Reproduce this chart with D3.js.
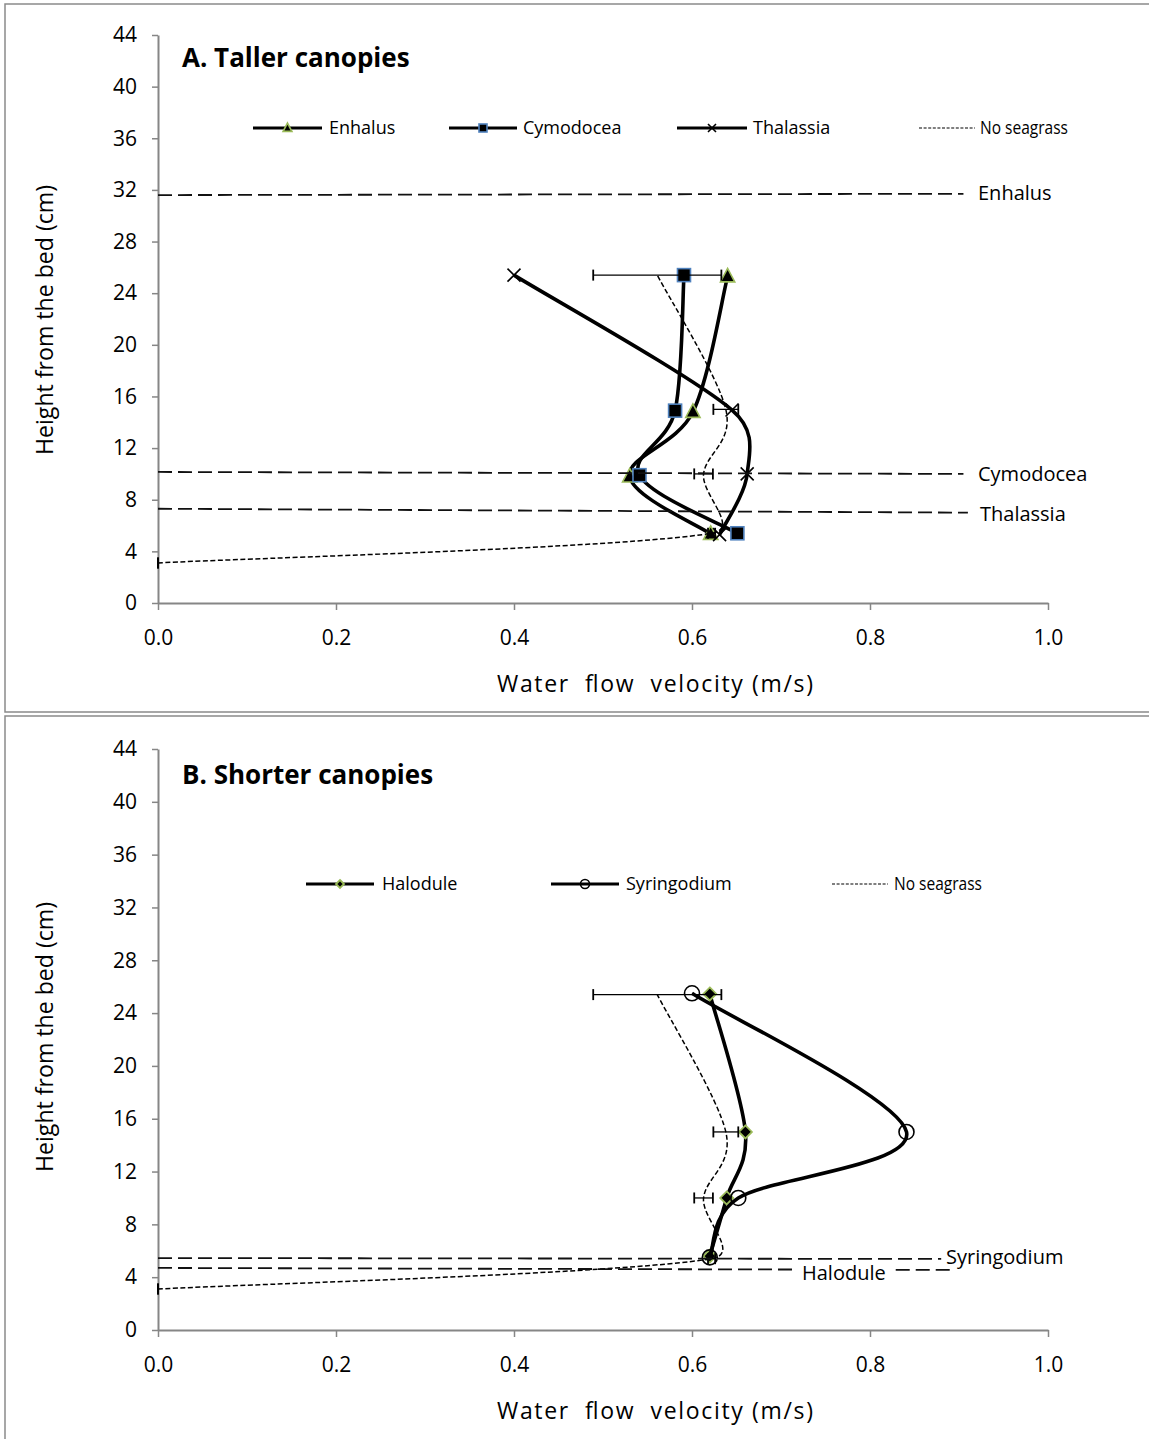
<!DOCTYPE html>
<html><head><meta charset="utf-8">
<script src="https://cdn.jsdelivr.net/npm/d3@7"></script>
<style>
body{margin:0;background:#fff;}
svg{display:block;font-family:"Open Sans",sans-serif;}
</style></head><body>
<svg id="c" width="1149" height="1439"></svg>
<script>
// ---------- data ----------
const xTicks=[0,0.2,0.4,0.6,0.8,1.0];
const yTicks=[0,4,8,12,16,20,24,28,32,36,40,44];
// Panel A: taller canopies (velocity m/s, height cm)
const enhalusV=[0.640,0.601,0.530,0.621];
const enhalusH=[25.3,14.8,9.8,5.35];
const cymodoceaV=[0.591,0.581,0.541,0.651];
const cymodoceaH=[25.4,14.9,9.9,5.4];
const thalassiaV=[0.400,0.645,0.662,0.631];
const thalassiaH=[25.4,14.95,10.0,5.3];
// No seagrass (control), shared by both panels
const noSeagrassV=[0.000,0.622,0.613,0.638,0.561];
const noSeagrassH=[3.1,5.4,10.0,15.0,25.4];
const noSeagrassErr=[0.000,0.004,0.0105,0.014,0.072];
// Panel B: shorter canopies
const haloduleV=[0.620,0.660,0.639,0.620];
const haloduleH=[25.45,15.0,10.0,5.6];
const syringodiumV=[0.600,0.841,0.652,0.620];
const syringodiumH=[25.5,15.0,10.0,5.5];
// canopy height reference lines (height at start / end, end velocity)
const canopyA=["Enhalus","Cymodocea","Thalassia"];
const canopyAStartH=[31.6,10.15,7.3];
const canopyAEndH=[31.7,10.0,7.0];
const canopyAEndV=[0.905,0.905,0.91];
const canopyB=["Syringodium","Halodule"];
const canopyBStartH=[5.45,4.7];
const canopyBEndH=[5.38,4.55];
const canopyBEndV=[0.88,0.89];

// ---------- drawing ----------
const svg=d3.select("#c");
const GRAY="#868686", GREEN="#9BBB59", BLUE="#4F81BD";

svg.append("rect").attr("x",5).attr("y",4).attr("width",1160).attr("height",708)
  .attr("fill","none").attr("stroke","#8a8a8a").attr("stroke-width",1.5);
svg.append("rect").attr("x",5).attr("y",716).attr("width",1160).attr("height",740)
  .attr("fill","none").attr("stroke","#8a8a8a").attr("stroke-width",1.5);

// Excel-like smoothed line: Catmull-Rom style tangents with arms limited by segment length
function smoothPath(p){
  const path=d3.path();
  path.moveTo(p[0][0],p[0][1]);
  const clamp=(a,v,len)=>{const L=Math.hypot(v[0],v[1]);const m=0.5*len;const s=L>m?m/L:1;return [a[0]+v[0]*s,a[1]+v[1]*s];};
  for(let i=0;i<p.length-1;i++){
    const a=p[i], b=p[i+1], prev=p[i-1]||a, next=p[i+2]||b;
    const len=Math.hypot(b[0]-a[0],b[1]-a[1]);
    const c1=clamp(a,[(b[0]-prev[0])/6,(b[1]-prev[1])/6],len);
    const c2=clamp(b,[-(next[0]-a[0])/6,-(next[1]-a[1])/6],len);
    path.bezierCurveTo(c1[0],c1[1],c2[0],c2[1],b[0],b[1]);
  }
  return path.toString();
}

function marker(g,type,cx,cy,s){
  if(type==="triangle"){
    g.append("path").attr("d",`M${cx},${cy-s*0.62}L${cx+s*0.55},${cy+s*0.42}L${cx-s*0.55},${cy+s*0.42}Z`)
      .attr("fill","#000").attr("stroke",GREEN).attr("stroke-width",1.6);
  }else if(type==="square"){
    g.append("rect").attr("x",cx-s/2).attr("y",cy-s/2).attr("width",s).attr("height",s)
      .attr("fill","#000").attr("stroke",BLUE).attr("stroke-width",1.6);
  }else if(type==="x"){
    const h=s/2;
    g.append("path").attr("d",`M${cx-h},${cy-h}L${cx+h},${cy+h}M${cx-h},${cy+h}L${cx+h},${cy-h}`)
      .attr("stroke","#000").attr("stroke-width",1.6).attr("fill","none");
  }else if(type==="diamond"){
    const h=s/2;
    g.append("path").attr("d",`M${cx},${cy-h}L${cx+h},${cy}L${cx},${cy+h}L${cx-h},${cy}Z`)
      .attr("fill","#000").attr("stroke",GREEN).attr("stroke-width",1.8);
  }else if(type==="circle"){
    g.append("circle").attr("cx",cx).attr("cy",cy).attr("r",s/2)
      .attr("fill","none").attr("stroke","#000").attr("stroke-width",1.6);
  }
}

function panel(cfg){
  const x=d3.scaleLinear().domain([0,1]).range([158,1048]);
  const y=d3.scaleLinear().domain([0,44]).range([cfg.bottom,cfg.top]);
  const g=svg.append("g");

  // axes
  const ya=g.append("g").attr("transform","translate(158,0)")
    .call(d3.axisLeft(y).tickValues(yTicks).tickSize(6).tickSizeOuter(0).tickPadding(15).tickFormat(d3.format("d")));
  const xa=g.append("g").attr("transform",`translate(0,${cfg.bottom})`)
    .call(d3.axisBottom(x).tickValues(xTicks).tickSize(7).tickSizeOuter(0).tickFormat(d3.format(".1f")));
  [ya,xa].forEach(a=>{
    a.select(".domain").attr("stroke",GRAY).attr("stroke-width",2);
    a.selectAll(".tick line").attr("stroke",GRAY).attr("stroke-width",1.5);
    a.selectAll(".tick text").attr("fill","#000").style("font-size","21px").style("font-family","'Open Sans',sans-serif");
  });
  xa.selectAll(".tick text").attr("y",35).attr("dy","0.35em");

  // axis titles
  g.append("text").attr("x",655).attr("y",cfg.bottom+81).attr("text-anchor","middle").attr("dy","0.35em")
    .style("font-size","23px").style("white-space","pre").attr("textLength",316).attr("lengthAdjust","spacing")
    .text("Water  flow  velocity (m/s)");
  g.append("text").attr("transform",`translate(45,${cfg.ytitleY}) rotate(-90)`).attr("text-anchor","middle").attr("dy","0.35em")
    .style("font-size","23px").attr("textLength",270).attr("lengthAdjust","spacingAndGlyphs")
    .text("Height from the bed (cm)");

  // panel title
  g.append("text").attr("x",182).attr("y",cfg.titleY).attr("dy","0.35em")
    .style("font-size","26px").style("font-weight","bold").text(cfg.title);

  // series
  cfg.series.forEach(s=>{
    const pts=s.v.map((v,i)=>[v,s.h[i]]);
    if(s.err){
      s.err.forEach((e,i)=>{
        const cy=y(s.h[i]);
        g.append("line").attr("x1",x(s.v[i]-e)).attr("x2",x(s.v[i]+e)).attr("y1",cy).attr("y2",cy)
          .attr("stroke","#000").attr("stroke-width",1.3);
        [s.v[i]-e,s.v[i]+e].forEach(ex=>{
          g.append("line").attr("x1",x(ex)).attr("x2",x(ex)).attr("y1",cy-5.5).attr("y2",cy+5.5)
            .attr("stroke","#000").attr("stroke-width",1.8);
        });
      });
    }
    g.append("path").attr("d",smoothPath(pts.map(p=>[x(p[0]),y(p[1])]))).attr("fill","none").attr("stroke","#000")
      .attr("stroke-width",s.dashed?1.5:3.6).attr("stroke-dasharray",s.dashed?"5,2.5":null);
    if(s.marker) pts.forEach(p=>marker(g,s.marker,x(p[0]),y(p[1]),s.marker==="circle"?15:13));
  });

  // legend
  cfg.legend.forEach(l=>{
    const ly=cfg.legendY;
    g.append("line").attr("x1",l.x0).attr("x2",l.x1).attr("y1",ly).attr("y2",ly).attr("stroke","#000")
      .attr("stroke-width",l.dashed?1.2:3.2).attr("stroke-dasharray",l.dashed?"3,1.6":null);
    if(l.marker) marker(g,l.marker,(l.x0+l.x1)/2,ly,l.marker==="circle"?9:8);
    const t=g.append("text").attr("x",l.tx).attr("y",ly).attr("dy","0.35em").style("font-size","18px").text(l.label);
    if(l.tl) t.attr("textLength",l.tl).attr("lengthAdjust","spacingAndGlyphs");
  });

  // canopy height lines
  cfg.canopy.forEach(c=>{
    const y0=y(c.h0), y1=y(c.h1);
    const lab=g.append("text").attr("x",c.lx).attr("y",c.ly).attr("dy","0.35em").style("font-size","20px").text(c.name);
    const segs=[];
    if(c.gap){
      const bb=lab.node().getBBox();
      segs.push([c.v0,x.invert(bb.x-10)],[x.invert(bb.x+bb.width+10),c.v1]);
    }else segs.push([c.v0,c.v1]);
    segs.forEach(sg=>{
      const f=v=>y0+(y1-y0)*(v-c.v0)/(c.v1-c.v0);
      g.append("line").attr("x1",x(sg[0])).attr("x2",x(sg[1])).attr("y1",f(sg[0])).attr("y2",f(sg[1]))
        .attr("stroke","#111").attr("stroke-width",1.8).attr("stroke-dasharray","14,6");
    });
  });
}

panel({
  top:35,bottom:603,titleY:58,legendY:128,ytitleY:320,title:"A. Taller canopies",
  series:[
    {v:enhalusV,h:enhalusH,marker:"triangle"},
    {v:cymodoceaV,h:cymodoceaH,marker:"square"},
    {v:thalassiaV,h:thalassiaH,marker:"x"},
    {v:noSeagrassV,h:noSeagrassH,dashed:true,err:noSeagrassErr}
  ],
  legend:[
    {label:"Enhalus",marker:"triangle",x0:253,x1:322,tx:329},
    {label:"Cymodocea",marker:"square",x0:449,x1:517,tx:523},
    {label:"Thalassia",marker:"x",x0:677,x1:747,tx:753},
    {label:"No seagrass",dashed:true,x0:919,x1:975,tx:980,tl:88}
  ],
  canopy:canopyA.map((n,i)=>({name:n,h0:canopyAStartH[i],h1:canopyAEndH[i],v0:0,v1:canopyAEndV[i],
    lx:[978,978,980][i],ly:[193,474,514][i]}))
});

panel({
  top:749,bottom:1330,titleY:775,legendY:884,ytitleY:1037,title:"B. Shorter canopies",
  series:[
    {v:haloduleV,h:haloduleH,marker:"diamond"},
    {v:syringodiumV,h:syringodiumH,marker:"circle"},
    {v:noSeagrassV,h:noSeagrassH,dashed:true,err:noSeagrassErr}
  ],
  legend:[
    {label:"Halodule",marker:"diamond",x0:306,x1:374,tx:382},
    {label:"Syringodium",marker:"circle",x0:551,x1:619,tx:626},
    {label:"No seagrass",dashed:true,x0:832,x1:888,tx:894,tl:88}
  ],
  canopy:canopyB.map((n,i)=>({name:n,h0:canopyBStartH[i],h1:canopyBEndH[i],v0:0,v1:canopyBEndV[i],
    lx:[946,802][i],ly:[1257,1273][i],gap:i===1}))
});
</script></body></html>
